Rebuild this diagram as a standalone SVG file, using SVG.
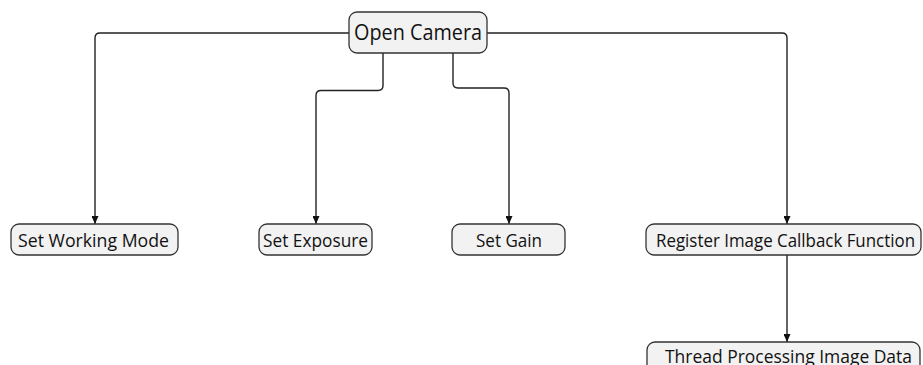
<svg xmlns="http://www.w3.org/2000/svg" width="923" height="365" viewBox="0 0 923 365">
  <style>
    .box { fill: #f2f2f2; stroke: #333333; stroke-width: 1.3; }
    .lbl { font-family: "Open Sans", "Noto Sans", "Liberation Sans", sans-serif; font-size: 19px; fill: #111; }
    .big { font-size: 21px; }
    .link { fill: none; stroke: #222; stroke-width: 1.4; marker-end: url(#arrow); }
  </style>
  <defs>
    <marker id="arrow" markerUnits="userSpaceOnUse" viewBox="0 0 8 7" markerWidth="8" markerHeight="7" refX="8" refY="3.5" orient="auto">
      <path d="M0,0 L8,3.5 L0,7 z" fill="#111"/>
    </marker>
  </defs>
  <rect width="923" height="365" fill="#ffffff"/>

  <g id="connectors">
    <path class="link" d="M349,33 H100 Q95,33 95,38 V224"/>
    <path class="link" d="M487,33 H782 Q787,33 787,38 V224"/>
    <path class="link" d="M383,53 V85.5 Q383,90.5 378,90.5 H321 Q316,90.5 316,95.5 V224"/>
    <path class="link" d="M453,53 V83 Q453,88 458,88 H504 Q509,88 509,93 V224"/>
    <path class="link" d="M787,255 V342"/>
  </g>

  <g id="open-camera">
    <rect class="box" x="349" y="12" width="138" height="41" rx="8"/>
    <text class="lbl big" x="354" y="39.5" textLength="128" lengthAdjust="spacingAndGlyphs">Open Camera</text>
  </g>

  <g id="set-working-mode">
    <rect class="box" x="11" y="224" width="167" height="31" rx="8"/>
    <text class="lbl" x="18" y="247" textLength="151" lengthAdjust="spacingAndGlyphs">Set Working Mode</text>
  </g>

  <g id="set-exposure">
    <rect class="box" x="259" y="224" width="113" height="31" rx="8"/>
    <text class="lbl" x="263" y="247" textLength="105" lengthAdjust="spacingAndGlyphs">Set Exposure</text>
  </g>

  <g id="set-gain">
    <rect class="box" x="452" y="224" width="113" height="31" rx="8"/>
    <text class="lbl" x="476" y="247" textLength="66" lengthAdjust="spacingAndGlyphs">Set Gain</text>
  </g>

  <g id="register-callback">
    <rect class="box" x="646" y="224" width="275" height="31" rx="8"/>
    <text class="lbl" x="656" y="247" textLength="259" lengthAdjust="spacingAndGlyphs">Register Image Callback Function</text>
  </g>

  <g id="thread-processing">
    <rect class="box" x="647" y="342" width="273" height="31" rx="8"/>
    <text class="lbl" x="665" y="363" textLength="247" lengthAdjust="spacingAndGlyphs">Thread Processing Image Data</text>
  </g>
</svg>
